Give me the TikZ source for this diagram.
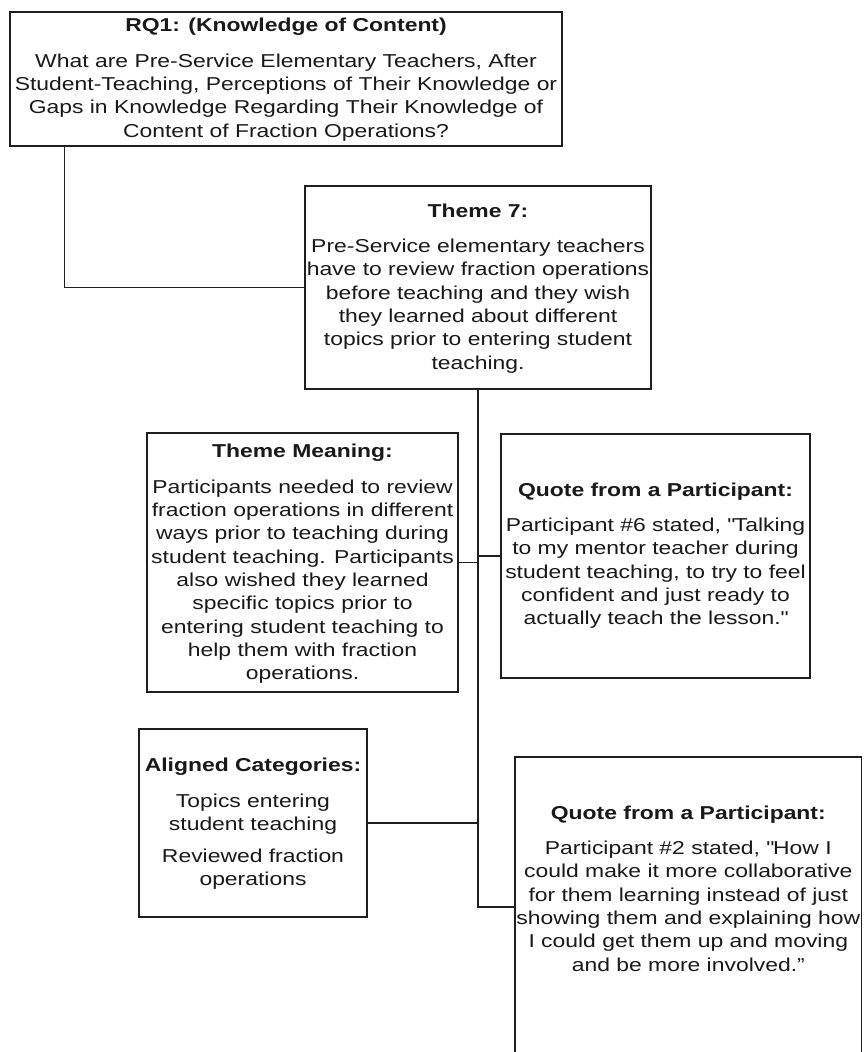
\documentclass[tikz,border=0pt]{standalone}
\usepackage{fontspec}
\setmainfont{Liberation Sans}[FakeStretch=1.227]
\usetikzlibrary{calc}
\newcommand{\tl}{\rule{0pt}{12pt}}
\begin{document}
\begin{tikzpicture}[x=0.75pt,y=-0.75pt,
  box/.style={draw=black!88, line width=1.1pt, rectangle, inner sep=0pt, fill=white},
  txt/.style={align=center, inner sep=0pt, anchor=north, text=black!90,
    font=\fontsize{14pt}{17.5pt}\selectfont},
  conn/.style={draw=black!88, line width=1.1pt}]
\useasboundingbox (0,0) rectangle (864,1052);
\clip (0,0) rectangle (864,1052);
\fill[white] (0,0) rectangle (864,1052);

% boxes
\node[box, minimum width=414pt, minimum height=100.5pt] (rq1) at (286,79) {};
\node[box, minimum width=259.5pt, minimum height=152.25pt] (t7) at (478,287.5) {};
\node[box, minimum width=233.25pt, minimum height=194.25pt] (tm) at (302.5,562.5) {};
\node[box, minimum width=231.75pt, minimum height=183pt] (q1) at (655.5,556) {};
\node[box, minimum width=171pt, minimum height=141pt] (al) at (253,823) {};
\node[box, minimum width=260pt, minimum height=225pt] (q2) at (688.3,907) {};

% connectors
\draw[conn] ($(rq1.south west)+(55,0)$) |- (t7.west);
\draw[conn] (t7.south) -- (t7.south |- q2.west) -- (q2.west);
\draw[conn] (tm.east) -- (tm.east -| t7.south);
\draw[conn] (q1.west) -- (q1.west -| t7.south);
\draw[conn] (al.east) -- (al.east -| t7.south);

% texts
\node[txt] (rq1t) at (286,15.7) {\tl\textbf{RQ1: (Knowledge of Content)}\\[8.8pt]
  What are Pre-Service Elementary Teachers, After\\
  Student-Teaching, Perceptions of Their Knowledge or\\
  Gaps in Knowledge Regarding Their Knowledge of\\
  Content of Fraction Operations?};

\node[txt] (t7t) at (478,201.3) {\tl\textbf{Theme 7:}\\[8.8pt]
  Pre-Service elementary teachers\\
  have to review fraction operations\\
  before teaching and they wish\\
  they learned about different\\
  topics prior to entering student\\
  teaching.};

\node[txt] (tmt) at (302.5,441.7) {\tl\textbf{Theme Meaning:}\\[8.8pt]
  Participants needed to review\\
  fraction operations in different\\
  ways prior to teaching during\\
  student teaching. Participants\\
  also wished they learned\\
  specific topics prior to\\
  entering student teaching to\\
  help them with fraction\\
  operations.};

\node[txt] (q1t) at (655.5,480) {\tl\textbf{Quote from a Participant:}\\[8.8pt]
  Participant \#6 stated, \textquotedbl Talking\\
  to my mentor teacher during\\
  student teaching, to try to feel\\
  confident and just ready to\\
  actually teach the lesson.\textquotedbl};

\node[txt] (alt) at (253,755.7) {\tl\textbf{Aligned Categories:}\\[8.8pt]
  Topics entering\\
  student teaching\\[6.5pt]
  Reviewed fraction\\
  operations};

\node[txt] (q2t) at (688.3,803) {\tl\textbf{Quote from a Participant:}\\[8.8pt]
  Participant \#2 stated, \textquotedbl How I\\
  could make it more collaborative\\
  for them learning instead of just\\
  showing them and explaining how\\
  I could get them up and moving\\
  and be more involved.”};
\end{tikzpicture}
\end{document}
